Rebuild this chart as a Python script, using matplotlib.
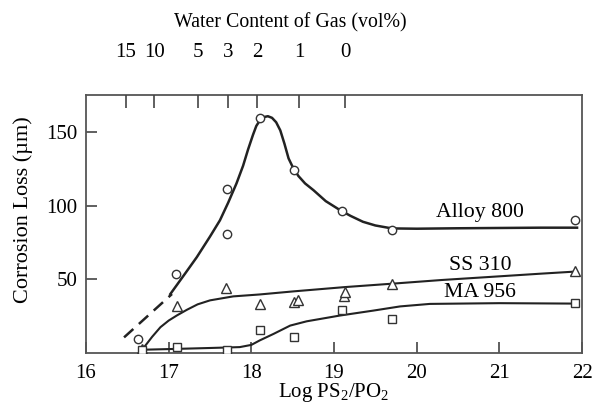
import matplotlib
matplotlib.use("Agg")
import matplotlib.pyplot as plt

plt.rcParams['font.family'] = ['Liberation Serif', 'DejaVu Serif']
plt.rcParams['mathtext.fontset'] = 'custom'
plt.rcParams['mathtext.rm'] = 'Liberation Serif'
plt.rcParams['mathtext.it'] = 'Liberation Serif:italic'

# Measured points
alloy_x = [16.63, 17.09, 17.70, 17.70, 18.10, 18.51, 19.10, 19.70, 21.91]
alloy_y = [9.5, 53.8, 111, 81, 159.5, 124.3, 96.3, 83.4, 90.2]
ss_x = [16.68, 17.10, 17.69, 18.10, 18.51, 18.57, 19.12, 19.13, 19.70, 21.91]
ss_y = [3, 32.2, 44.3, 33.4, 34.5, 35.7, 38.4, 41.3, 47, 55.6]
ma_x = [16.68, 17.10, 17.70, 18.10, 18.51, 19.10, 19.70, 21.91]
ma_y = [2.2, 4.1, 2.2, 15.9, 10.7, 29.5, 23.4, 33.8]

# Hand-drawn fit curves
alloy_curve_x = [17.02, 17.2, 17.34, 17.5, 17.62, 17.72, 17.82, 17.9, 17.96, 18.02,
                 18.06, 18.1, 18.15, 18.2, 18.25, 18.3, 18.35, 18.4, 18.45, 18.51,
                 18.57, 18.65, 18.75, 18.9, 19.07, 19.2, 19.35, 19.5, 19.7, 20.0,
                 20.5, 21.0, 21.5, 21.94]
alloy_curve_y = [40, 54, 65, 79, 90, 102, 115, 127, 138, 148,
                 154, 157.5, 160, 160.6, 159.5, 156.5, 151, 142, 132, 125,
                 120, 115, 110.5, 103, 97, 93, 89, 86.5, 84.5, 84.3,
                 84.6, 84.8, 85, 85]
alloy_dash_x = [16.46, 17.04]
alloy_dash_y = [10.6, 40]
ss_curve_x = [16.69, 16.8, 16.9, 17.0, 17.1, 17.22, 17.35, 17.5, 17.78, 18.1,
              18.51, 19.13, 19.7, 20.3, 21.0, 21.5, 21.94]
ss_curve_y = [3, 11, 17.5, 22, 25.5, 29.3, 33, 35.7, 38.4, 39.7,
              41.8, 44.7, 47, 49.5, 52, 53.8, 55.3]
ma_curve_x = [16.68, 17.1, 17.5, 17.86, 18.0, 18.1, 18.27, 18.47, 18.67, 19.07,
              19.48, 19.8, 20.16, 21.0, 21.94]
ma_curve_y = [2.2, 2.8, 3.4, 4.0, 5.5, 8.5, 13, 18.6, 21.5, 25.4,
              28.8, 31.6, 33.3, 33.8, 33.5]

series_labels = ["Alloy 800", "SS 310", "MA 956"]
x_ticks = [16, 17, 18, 19, 20, 21, 22]
y_ticks = [50, 100, 150]
water_tick_pos = [16.484, 16.823, 17.355, 17.718, 18.068, 18.577, 19.133]
water_tick_labels = ["15", "10", "5", "3", "2", "1", "0"]

fig = plt.figure(figsize=(6.02, 4.08), dpi=100)
ax = fig.add_axes([0.1429, 0.1348, 0.8239, 0.6324])

lc = '#222222'
ax.plot(alloy_curve_x, alloy_curve_y, color=lc, lw=1.8, zorder=2)
ax.plot(alloy_dash_x, alloy_dash_y, color=lc, lw=1.8, ls=(0, (5, 3)), zorder=2)
ax.plot(ss_curve_x, ss_curve_y, color=lc, lw=1.5, zorder=2)
ax.plot(ma_curve_x, ma_curve_y, color=lc, lw=1.5, zorder=2)

mk = dict(ls='none', mfc='white', mec='#333333', mew=1.0, zorder=3)
ax.plot(alloy_x, alloy_y, marker='o', ms=6, **mk)
ax.plot(ss_x, ss_y, marker='^', ms=7, **mk)
ax.plot(ma_x, ma_y, marker='s', ms=5.5, **mk)

ax.text(20.77, 95, series_labels[0], fontsize=15.7, ha='center', va='center')
ax.text(20.77, 59.5, series_labels[1], fontsize=15.7, ha='center', va='center')
ax.text(20.77, 41, series_labels[2], fontsize=15.7, ha='center', va='center')

ax.set_xlim(16, 22)
ax.set_ylim(0, 175)
ax.set_xticks(x_ticks)
ax.set_xticklabels([str(t) for t in x_ticks])
ax.set_yticks(y_ticks)
ax.set_yticklabels([str(t) for t in y_ticks])
ax.tick_params(direction='in', length=8, width=1.2, color='#444444',
               labelsize=15)
ax.tick_params(axis='x', pad=8)
ax.tick_params(axis='y', pad=6)
for s in ax.spines.values():
    s.set_color('#555555')
    s.set_linewidth(1.3)
ax.set_xlabel("Log PS$_2$/PO$_2$", fontsize=15)
ax.xaxis.set_label_coords(0.5, -0.155)
ax.xaxis.label.set_va('center')
ax.set_ylabel("Corrosion Loss (µm)", fontsize=16)
ax.yaxis.set_label_coords(-0.107, 0.554)

ax2 = ax.twiny()
ax2.set_xlim(ax.get_xlim())
ax2.set_xticks(water_tick_pos)
ax2.set_xticklabels(water_tick_labels)
ax2.tick_params(direction='in', length=9, width=1.2, color='#444444',
                labelsize=15, pad=24)
for s in ax2.spines.values():
    s.set_visible(False)
fig.text(290 / 602, 1 - 23 / 408, "Water Content of Gas (vol%)", fontsize=14.3,
         ha='center', va='center')

fig.savefig("out.png", dpi=100)
